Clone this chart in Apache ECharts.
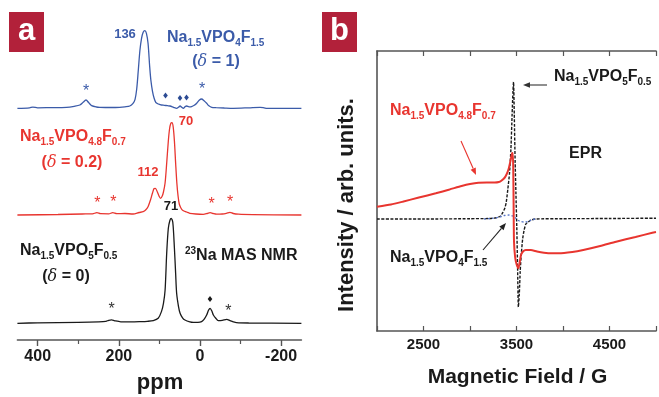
<!DOCTYPE html>
<html>
<head>
<meta charset="utf-8">
<script src="https://cdn.jsdelivr.net/npm/echarts@6/dist/echarts.min.js"></script>
<style>
html,body{margin:0;padding:0;background:#fff;}
#chart{width:659px;height:397px;}
</style>
</head>
<body>
<div id="chart"></div>
<script>
// ---------- DATA ----------
// Panel a: 23Na MAS NMR, [ppm, height above own baseline]
const ppmMajorTicks = [400, 200, 0, -200];
const ppmMinorTicks = [300, 100, -100];
const nmrBlack = [[450,0],[400,0.5],[300,1],[250,1.5],[232,2],[225,3],[218,3.5],[210,2.5],[195,1.5],[170,1.5],[148,1.7],[130,2],[115,2.7],[103,5],[95,11.7],[90,20],[86,33],[82,70],[78,95],[74,103],[71,105],[67,101],[63,75],[60,50],[57.5,30],[53,17],[49,10],[43,5.5],[37,3.3],[25,1.5],[16.5,1],[5,1],[-4,1.7],[-10,4],[-16.5,8.3],[-21,13],[-25,15],[-29,12.5],[-33,8.3],[-39,5],[-45,2.7],[-55,3],[-66,4],[-74,2.7],[-82,1.5],[-90,0.7],[-120,0.3],[-250,0]];
const nmrRed = [[450,0],[350,0.5],[290,1],[265,1.2],[254,2.3],[245,1.3],[225,1.2],[215,2.3],[205,1.3],[185,1.5],[165,1],[150,2.5],[140,3.3],[134,5],[128,8.3],[122,15],[117,22],[113,26.5],[110,26.7],[105,23],[101,19],[97,16.7],[93,19],[90,23],[86,32],[82,52],[78,74],[75,86],[72,91.5],[69,92.3],[66,88],[63,74],[60,52],[57,32],[54,19],[51,11],[47,7],[42,4.5],[33,3],[25,1.7],[10,1],[-8,0.7],[-18,1.5],[-25,2.3],[-32,1.5],[-41,0.8],[-55,1],[-65,1.7],[-74,2.7],[-82,1.5],[-95,0.8],[-130,0.4],[-250,0]];
const nmrBlue = [[450,0],[420,0.5],[412,1.2],[400,0.5],[370,0.7],[329,1],[310,2],[296,3.3],[288,6],[281,8.3],[274,5.5],[267,2.7],[255,1.3],[247,1],[220,0.8],[198,1],[185,1.5],[173,2.3],[165,5],[160,9],[156,19],[152,38],[148,58],[144,70],[140,76],[136,77.7],[132,75],[128,65],[124,42],[121,28],[117,17],[113,10],[109,6],[104,4.5],[100,4],[95,3.3],[88,3],[80,2.6],[74,2.3],[65,1],[57.6,0],[53,1],[49,2.3],[45,1],[41,0],[37,1.5],[33,2.3],[27,1.5],[20.6,1.7],[14,3],[8,5],[2,8],[-4,9.3],[-10,7.5],[-16.5,5],[-22,2.5],[-29,1],[-40,0.7],[-60,0.3],[-82,0],[-120,0.5],[-148,1],[-158,0.5],[-165,0],[-250,0]];

// Panel b: EPR, [field (G), intensity]
const fieldLabels = [2500, 3500, 4500];
const eprBlack = [[2000,0],[2500,0],[3000,0.3],[3200,0.5],[3280,1.2],[3330,3],[3355,7],[3375,11],[3390,17],[3407,30],[3425,46],[3440,70],[3453,105],[3462,128],[3468,137],[3476,105],[3485,59],[3494,25],[3503,-8],[3512,-50],[3520,-88],[3530,-75],[3540,-52],[3550,-37],[3566,-20],[3580,-12],[3600,-5],[3620,-3.5],[3654,-1.2],[3707,0],[4000,0.3],[4500,0.5],[5000,0.8]];
const eprBlue = [[3150,0],[3250,0.8],[3320,2],[3370,3.5],[3420,4],[3460,3],[3485,1.5],[3500,0],[3520,-1.5],[3545,-2.5],[3580,-3],[3620,-2.5],[3660,-1],[3700,0]];
const eprRed = [[2000,12.3],[2150,14.5],[2275,17.3],[2450,21.5],[2632,25.7],[2780,29.5],[2910,33],[3000,35],[3090,36.3],[3180,36.5],[3267,36.5],[3310,37],[3337,38.3],[3370,41],[3395,45],[3415,50],[3435,58],[3453,65.7],[3460,66],[3465,50],[3469,15],[3473,-22],[3485,-38],[3500,-45],[3520,-49.3],[3535,-43],[3548,-36],[3570,-32.5],[3600,-31],[3654,-31],[3720,-32.5],[3795,-33.7],[3880,-34.3],[3954,-34.3],[4100,-33],[4218,-31],[4400,-27],[4571,-22.7],[4780,-18],[4960,-13.7],[5000,-13]];

// ---------- STYLE / LAYOUT ----------
const FONT = "'Liberation Sans', Arial, sans-serif";
const C_BLACK = '#1a1a1a', C_RED = '#e8352f', C_BLUE = '#3b5ba9', C_BOX = '#b2213a';
const OFF_BLACK = 16.7, OFF_RED = 125, OFF_BLUE = 231.7;
const shift = (arr, off) => arr.map(p => [p[0], p[1] + off]);

function richStyle(color) {
  return {
    m: {fontFamily: FONT, fontWeight: 'bold', fontSize: 16, lineHeight: 16, fill: color},
    s: {fontFamily: FONT, fontWeight: 'bold', fontSize: 10, lineHeight: 10, fill: color, padding: [11, 0, 0, 0]},
    u: {fontFamily: FONT, fontWeight: 'bold', fontSize: 10, lineHeight: 10, fill: color, padding: [0, 0, 10, 0]},
    d: {fontFamily: 'DejaVu Serif, serif', fontStyle: 'italic', fontWeight: 'normal', fontSize: 16, lineHeight: 16, fill: color}
  };
}
function rtext(x, y, text, color, align) {
  return {type: 'text', x: x, y: y, z: 10, style: {text: text, rich: richStyle(color), align: align || 'left', verticalAlign: 'middle', fill: color}};
}
function ptext(x, y, text, color, size, align) {
  return {type: 'text', x: x, y: y, z: 10, style: {text: text, fill: color, font: 'bold ' + size + 'px ' + FONT, align: align || 'center', verticalAlign: 'middle'}};
}
function star(x, y, color) {
  return {type: 'text', x: x, y: y + 4, z: 10, style: {text: '*', fill: color, font: '16px ' + FONT, align: 'center', verticalAlign: 'middle'}};
}
function diamond(x, y, color) {
  return {type: 'polygon', z: 10, shape: {points: [[x, y - 3], [x + 2.3, y], [x, y + 3], [x - 2.3, y]]}, style: {fill: color}};
}
function arrow(x1, y1, x2, y2, color) {
  const dx = x2 - x1, dy = y2 - y1, L = Math.sqrt(dx * dx + dy * dy);
  const ux = dx / L, uy = dy / L, hl = 7, hw = 2.8;
  const bx = x2 - ux * hl, by = y2 - uy * hl;
  return [
    {type: 'line', z: 10, shape: {x1: x1, y1: y1, x2: bx, y2: by}, style: {stroke: color, lineWidth: 1.1}},
    {type: 'polygon', z: 10, shape: {points: [[x2, y2], [bx - uy * hw, by + ux * hw], [bx + uy * hw, by - ux * hw]]}, style: {fill: color}}
  ];
}

const chart = echarts.init(document.getElementById('chart'), null, {renderer: 'canvas'});

const graphics = [
  // panel labels
  {type: 'rect', shape: {x: 9, y: 12, width: 35, height: 40}, style: {fill: C_BOX}},
  ptext(26.5, 31, 'a', '#fff', 31),
  {type: 'rect', shape: {x: 322, y: 12, width: 35, height: 40}, style: {fill: C_BOX}},
  ptext(339.5, 31, 'b', '#fff', 31),
  // panel a texts
  ptext(125, 34, '136', C_BLUE, 13),
  rtext(167, 38, '{m|Na}{s|1.5}{m|VPO}{s|4}{m|F}{s|1.5}', C_BLUE),
  rtext(216, 62, '{m|(}{d|δ}{m| = 1)}', C_BLUE, 'center'),
  ptext(186, 121, '70', C_RED, 13),
  rtext(20, 137, '{m|Na}{s|1.5}{m|VPO}{s|4.8}{m|F}{s|0.7}', C_RED),
  rtext(72, 163, '{m|(}{d|δ}{m| = 0.2)}', C_RED, 'center'),
  ptext(148, 172, '112', C_RED, 13),
  ptext(171, 206, '71', C_BLACK, 13),
  rtext(20, 251, '{m|Na}{s|1.5}{m|VPO}{s|5}{m|F}{s|0.5}', C_BLACK),
  rtext(66, 277, '{m|(}{d|δ}{m| = 0)}', C_BLACK, 'center'),
  rtext(185, 256, '{u|23}{m|Na MAS NMR}', C_BLACK),
  ptext(160, 383, 'ppm', C_BLACK, 22),
  star(86, 87.5, C_BLUE), star(202, 86, C_BLUE),
  diamond(165.5, 95.5, '#2b4a93'), diamond(180, 98, '#2b4a93'), diamond(186.5, 97.5, '#2b4a93'),
  star(97.3, 200, C_RED), star(113.3, 199, C_RED), star(211.7, 200.7, C_RED), star(230, 199, C_RED),
  star(111.7, 306, '#333'), diamond(210, 299, C_BLACK), star(228.3, 307.7, '#333'),
  // panel b texts
  rtext(554, 77, '{m|Na}{s|1.5}{m|VPO}{s|5}{m|F}{s|0.5}', C_BLACK),
  rtext(390, 111, '{m|Na}{s|1.5}{m|VPO}{s|4.8}{m|F}{s|0.7}', C_RED),
  ptext(585.5, 154, 'EPR', C_BLACK, 16),
  rtext(390, 258, '{m|Na}{s|1.5}{m|VPO}{s|4}{m|F}{s|1.5}', C_BLACK),
  ptext(517.5, 377, 'Magnetic Field / G', C_BLACK, 21),
  {type: 'text', x: 347, y: 205, rotation: Math.PI / 2, z: 10, style: {text: 'Intensity / arb. units.', fill: C_BLACK, font: 'bold 22px ' + FONT, align: 'center', verticalAlign: 'middle'}}
].concat(arrow(547, 85, 523, 85, '#333'), arrow(461, 141, 476, 175, C_RED), arrow(483, 250, 506, 223, '#222'));

const axisLabelFont = {fontFamily: FONT, fontWeight: 'bold', fontSize: 16, color: C_BLACK};

chart.setOption({
  animation: false,
  backgroundColor: '#fff',
  grid: [
    {left: 17.4, right: 357.6, top: 20, bottom: 57},
    {left: 377, right: 1, top: 51, bottom: 66}
  ],
  xAxis: [
    {gridIndex: 0, type: 'value', min: -250, max: 450, inverse: true, position: 'bottom',
     axisLine: {show: true, onZero: false, lineStyle: {color: '#555', width: 1.6}},
     axisTick: {show: true, customValues: ppmMajorTicks, length: 6, lineStyle: {color: '#555', width: 1.4}},
     axisLabel: {show: true, customValues: ppmMajorTicks, margin: 9, ...axisLabelFont},
     splitLine: {show: false}},
    {gridIndex: 0, type: 'value', min: -250, max: 450, inverse: true, position: 'bottom',
     axisLine: {show: false, onZero: false},
     axisTick: {show: true, customValues: ppmMinorTicks, length: 4, lineStyle: {color: '#555', width: 1.2}},
     axisLabel: {show: false}, splitLine: {show: false}},
    {gridIndex: 1, type: 'value', min: 2000, max: 5000, interval: 500, position: 'bottom',
     axisLine: {show: true, onZero: false, lineStyle: {color: '#555', width: 1.6}},
     axisTick: {show: true, inside: true, length: 5, lineStyle: {color: '#555', width: 1.2}},
     axisLabel: {show: true, margin: 6, formatter: v => fieldLabels.includes(v) ? String(v) : '', ...axisLabelFont, fontSize: 15},
     splitLine: {show: false}},
    {gridIndex: 1, type: 'value', min: 2000, max: 5000, interval: 500, position: 'top',
     axisLine: {show: true, onZero: false, lineStyle: {color: '#555', width: 1.6}},
     axisTick: {show: true, inside: true, length: 5, lineStyle: {color: '#555', width: 1.2}},
     axisLabel: {show: false}, splitLine: {show: false}}
  ],
  yAxis: [
    {gridIndex: 0, type: 'value', min: 0, max: 320, show: false},
    {gridIndex: 1, type: 'value', min: -112, max: 168, position: 'left',
     axisLine: {show: true, onZero: false, lineStyle: {color: '#555', width: 1.6}},
     axisTick: {show: false}, axisLabel: {show: false}, splitLine: {show: false}}
  ],
  series: [
    {type: 'line', xAxisIndex: 0, yAxisIndex: 0, data: shift(nmrBlack, OFF_BLACK), showSymbol: false, smooth: 0.3,
     lineStyle: {color: C_BLACK, width: 1.3}},
    {type: 'line', xAxisIndex: 0, yAxisIndex: 0, data: shift(nmrRed, OFF_RED), showSymbol: false, smooth: 0.3,
     lineStyle: {color: C_RED, width: 1.3}},
    {type: 'line', xAxisIndex: 0, yAxisIndex: 0, data: shift(nmrBlue, OFF_BLUE), showSymbol: false, smooth: 0.3,
     lineStyle: {color: C_BLUE, width: 1.3}},
    {type: 'line', xAxisIndex: 2, yAxisIndex: 1, data: eprBlack, showSymbol: false, smooth: 0.2,
     lineStyle: {color: C_BLACK, width: 1.4, type: [3, 1.5]}},
    {type: 'line', xAxisIndex: 2, yAxisIndex: 1, data: eprBlue, showSymbol: false, smooth: 0.3,
     lineStyle: {color: '#5672c4', width: 1.3, type: [2, 2]}},
    {type: 'line', xAxisIndex: 2, yAxisIndex: 1, data: eprRed, showSymbol: false, smooth: 0.2,
     lineStyle: {color: C_RED, width: 2}}
  ],
  graphic: graphics
});
</script>
</body>
</html>
